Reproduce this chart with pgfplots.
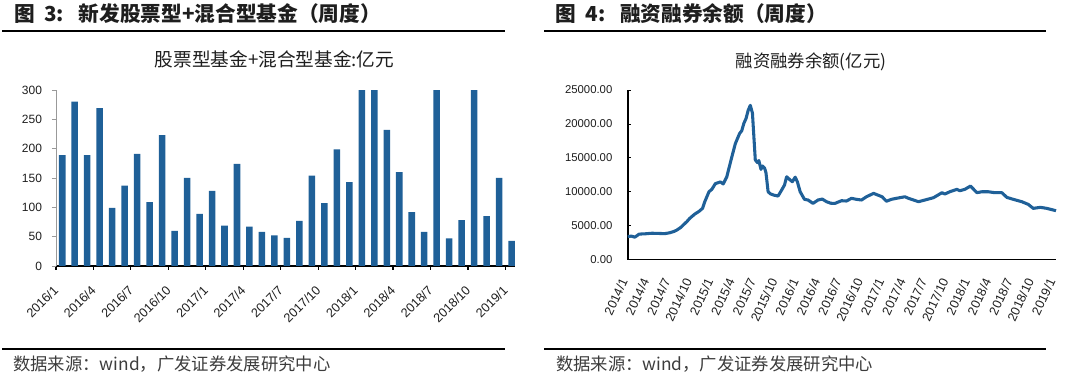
\documentclass[border=0pt]{standalone}
\usepackage{pgfplots}
\pgfplotsset{compat=1.18}
\usepackage{fontspec}
\setmainfont{Liberation Sans}
\newfontfamily\cjk{Noto Sans CJK SC}
\definecolor{barblue}{RGB}{31,96,152}
\definecolor{txt}{RGB}{30,30,30}
\definecolor{srcgray}{RGB}{60,60,60}
\begin{document}
\begin{tikzpicture}
\path[use as bounding box] (0,0) rectangle (801pt,288.75pt);
% ---- headers ----
\node[anchor=base west, inner sep=0pt, text=txt] at (10.5pt,272.3pt) {\cjk\bfseries\fontsize{15.5}{18}\selectfont 图\hspace{7pt}3:\hspace{11pt}新发股票型+混合型基金（周度）};
\node[anchor=base west, inner sep=0pt, text=txt] at (416.5pt,272.3pt) {\cjk\bfseries\fontsize{15.5}{18}\selectfont 图\hspace{7pt}4:\hspace{11pt}融资融券余额（周度）};
\draw[line width=0.8pt] (1.5pt,265.5pt) -- (378.75pt,265.5pt);
\draw[line width=0.8pt] (408pt,265.5pt) -- (784.5pt,265.5pt);
\draw[line width=0.8pt] (1.5pt,27pt) -- (378.75pt,27pt);
\draw[line width=0.8pt] (408pt,27pt) -- (784.5pt,27pt);
\node[anchor=center, inner sep=0pt, text=txt] at (205.9pt,244.1pt) {\cjk\fontsize{14}{16}\selectfont 股票型基金+混合型基金:亿元};
\node[anchor=center, inner sep=0pt, text=txt] at (608.25pt,242.6pt) {\cjk\fontsize{13}{15}\selectfont 融资融券余额(亿元)};
\node[anchor=west, inner sep=0pt, text=srcgray] at (9.75pt,15.75pt) {\cjk\fontsize{13}{15}\selectfont 数据来源：wind，广发证券发展研究中心};
\node[anchor=west, inner sep=0pt, text=srcgray] at (416.8pt,15.75pt) {\cjk\fontsize{13}{15}\selectfont 数据来源：wind，广发证券发展研究中心};
% ---- left chart ----
\begin{axis}[
  at={(42pt,89.25pt)}, anchor=south west,
  scale only axis, width=344.5pt, height=132pt,
  xmin=-0.5, xmax=36.3, ymin=0, ymax=300,
  axis x line*=bottom, axis y line*=left,
  x axis line style={black, line width=1.1pt},
  y axis line style={gray!80, line width=0.5pt},
  ytick={0,50,...,300},
  xtick={-0.5,2.5,...,35.5},
  xticklabels={2016/1,2016/4,2016/7,2016/10,2017/1,2017/4,2017/7,2017/10,2018/1,2018/4,2018/7,2018/10,2019/1},
  tick align=outside,
  major tick length=3pt,
  xtick style={black, line width=0.9pt},
  ytick style={gray!80, line width=0.5pt},
  yticklabel style={font=\fontsize{9}{10}\selectfont, text=txt, xshift=-4pt},
  /pgf/number format/assume math mode=true,
  xticklabel style={font=\fontsize{9.5}{11}\selectfont, text=txt, xshift=-2.5pt, yshift=-11pt, rotate=45, anchor=north east, inner sep=0pt},
  clip=false,
]
\addplot[ybar, bar width=4.9pt, fill=barblue, draw=none] coordinates {
(0,189) (1,280) (2,189) (3,269) (4,99) (5,137) (6,191) (7,109) (8,223) (9,60)
(10,150) (11,89) (12,128) (13,69) (14,174) (15,67) (16,58) (17,52) (18,48) (19,77)
(20,154) (21,107) (22,199) (23,143) (24,300) (25,300) (26,232) (27,160) (28,92) (29,58)
(30,300) (31,47) (32,78) (33,300) (34,85) (35,150) (36,43)
};
\end{axis}
% ---- right chart ----
\begin{axis}[
  at={(470.8pt,94.1pt)}, anchor=south west,
  scale only axis, width=321.2pt, height=127.1pt,
  xmin=0, xmax=60.1, ymin=0, ymax=25000,
  axis x line*=bottom, axis y line*=left,
  axis line style={black, line width=1.3pt},
  ytick={0,5000,...,25000},
  xtick={0,3,...,60},
  xticklabels={2014/1,2014/4,2014/7,2014/10,2015/1,2015/4,2015/7,2015/10,2016/1,2016/4,2016/7,2016/10,2017/1,2017/4,2017/7,2017/10,2018/1,2018/4,2018/7,2018/10,2019/1},
  xtick style={draw=none},
  ytick style={black, line width=0.6pt},
  ytick align=inside, major tick length=2.5pt,
  yticklabel style={font=\fontsize{8.5}{9.5}\selectfont, text=txt},
  scaled y ticks=false,
  /pgf/number format/fixed,
  /pgf/number format/fixed zerofill,
  /pgf/number format/precision=2,
  /pgf/number format/1000 sep={},
  /pgf/number format/assume math mode=true,
  yticklabel style={xshift=-8pt},
  xticklabel style={font=\fontsize{9.5}{11}\selectfont, text=txt, xshift=-6pt, yshift=-13pt, rotate=65, anchor=north east, inner sep=0pt},
  clip=false,
]
\addplot[barblue, line width=2.3pt, line join=round] coordinates {
(0,3400) (0.5,3450) (1,3300) (1.6,3750) (2.5,3800) (3.4,3880) (4.3,3850) (5.2,3820)
(5.9,3950) (6.5,4150) (6.9,4350) (7.4,4700) (7.8,5100) (8.3,5600) (8.7,6070) (9.4,6700)
(10,7100) (10.5,7550) (10.8,8500) (11.4,10000) (11.8,10350) (12.3,11200) (13,11450)
(13.4,11150) (13.9,12200) (14.5,14700) (15.1,17100) (15.7,18600) (16,19000) (16.3,20100)
(16.6,20800) (16.9,22000) (17.2,22750) (17.5,21600) (17.9,14700) (18.2,14300) (18.4,14600)
(18.7,13300) (18.9,13800) (19.2,13500) (19.4,12800) (19.7,10000) (20.0,9700) (20.5,9500)
(21.1,9370) (21.6,10250) (22,10990) (22.3,12210) (22.8,11730) (23.1,11480) (23.5,12150)
(23.8,11480) (24.2,10000) (24.8,8880) (25.3,8780) (26,8290) (26.7,8780) (27.3,8920)
(27.9,8530) (28.5,8300) (29.1,8290) (30,8680) (30.7,8630) (31.4,9030) (32.1,8880)
(32.8,8780) (33.5,9260) (34.5,9760) (35.1,9510) (35.7,9260) (36.3,8600) (37,8880)
(37.7,9030) (38.9,9260) (39.4,9030) (40.1,8780) (40.8,8530) (41.7,8780) (42.9,9120)
(44.1,9860) (44.5,9660) (45.2,10000) (46.2,10350) (46.6,10150) (47.3,10350) (48.1,10840)
(49,9860) (49.7,10000) (50.6,10000) (51.5,9860) (52.5,9860) (53.2,9170) (54.1,8880)
(55.3,8530) (56.2,8140) (56.9,7550) (57.9,7700) (58.8,7550) (60.1,7200)
};
\end{axis}
\end{tikzpicture}
\end{document}
